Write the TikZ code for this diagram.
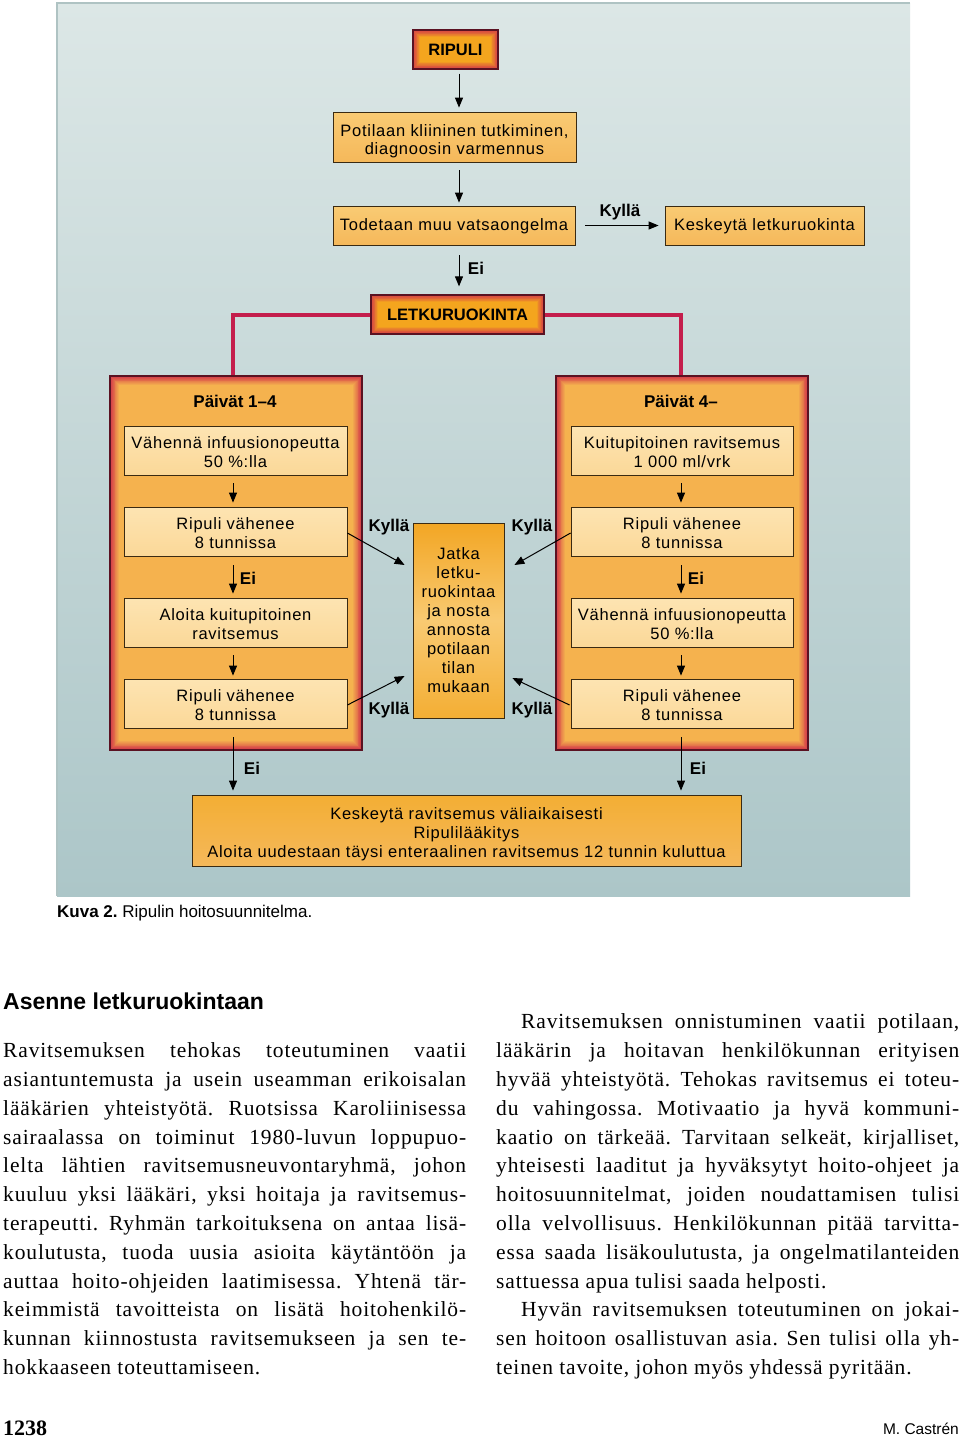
\documentclass[tikz,border=0pt]{standalone}
\usepackage{fontspec}
\setmainfont{Liberation Serif}
\newfontfamily\dsans[LetterSpace=4.5]{Liberation Sans}
\newfontfamily\plainsans{Liberation Sans}
\newfontfamily\bodyfont[LetterSpace=4]{Liberation Serif}
\usetikzlibrary{arrows.meta,calc}
\newcommand\tallstrut[1]{\rule{0pt}{#1}}
\definecolor{panelT}{HTML}{DCE7E6}
\definecolor{panelB}{HTML}{ACC6C8}
\definecolor{panelL}{HTML}{AFC3C3}
\definecolor{frdark}{HTML}{5A1222}
\definecolor{frred}{HTML}{D33A48}
\definecolor{frorange}{HTML}{F5B24E}
\definecolor{frorangeB}{HTML}{F4A51E}
\definecolor{boxline}{HTML}{3A2A12}
\definecolor{topT}{HTML}{F9CB74}
\definecolor{topB}{HTML}{F5B85A}
\definecolor{paleT}{HTML}{FDE4B2}
\definecolor{paleB}{HTML}{FBD898}
\definecolor{midT}{HTML}{F2A624}
\definecolor{midM}{HTML}{F9CA72}
\definecolor{midB}{HTML}{F3AE34}
\definecolor{redln}{HTML}{C41E4C}
\tikzset{
  dtext/.style={font=\dsans\fontsize{16.5}{19}\selectfont},
  bx/.style={draw=boxline, line width=0.8pt, inner sep=0pt, align=center, dtext},
  topbox/.style={bx, top color=topT, bottom color=topB},
  pale/.style={bx, top color=paleT, bottom color=paleB, minimum width=223pt, minimum height=49pt},
  frame/.style 2 args={draw=frdark, line width=1.2pt, fill=frred, inner sep=0pt, align=center,
    path picture={
      \foreach \i in {1,...,10}{
        \pgfmathtruncatemacro\p{100-\i*10}
        \fill[frred!\p!#2]
          ([shift={(\i*#1,\i*#1)}]path picture bounding box.south west) rectangle
          ([shift={(-\i*#1,-\i*#1)}]path picture bounding box.north east);
      }}},
  arr/.style={-{Triangle[length=10pt,width=8pt]}, line width=1pt, black},
  lbl/.style={font=\plainsans\bfseries\fontsize{17}{19}\selectfont, inner sep=0pt},
  redline/.style={line width=4pt, draw=redln},
  body/.style={font=\bodyfont\fontsize{21.5}{29}\selectfont, inner sep=0pt, anchor=base west},
}
\frenchspacing
\begin{document}
\begin{tikzpicture}[x=1pt,y=-1pt]
\useasboundingbox (0,0) rectangle (960,1438);
\fill[white] (0,0) rectangle (960,1438);
% panel
\shade[top color=panelT, bottom color=panelB] (57,3) rectangle (910,896);
\draw[panelL, line width=1.5pt] (57,896) -- (57,3) -- (910,3);

% top chain
\node[frame={0.7pt}{frorangeB}, minimum width=85pt, minimum height=39pt, font=\plainsans\bfseries\fontsize{16.5}{19}\selectfont] (ripuli) at (455.5,49.5) {RIPULI};
\node[topbox, minimum width=243pt, minimum height=50pt, font=\dsans\fontsize{16.5}{18.5}\selectfont] (potilaan) at (454.5,137) {\tallstrut{20pt}Potilaan kliininen tutkiminen,\\diagnoosin varmennus};
\node[topbox, minimum width=242pt, minimum height=39pt] (todetaan) at (454,225.5) {\tallstrut{14pt}Todetaan muu vatsaongelma};
\node[topbox, minimum width=199pt, minimum height=39pt] (keskeyta) at (764.5,225.5) {\tallstrut{14pt}Keskeytä letkuruokinta};
\node[frame={0.7pt}{frorangeB}, minimum width=173pt, minimum height=39pt, font=\plainsans\bfseries\fontsize{16.5}{19}\selectfont] (letku) at (457.5,314.5) {LETKURUOKINTA};

\draw[arr] ([xshift=3.5pt,yshift=-4pt]ripuli.south) -- ([xshift=4.5pt,yshift=4pt]potilaan.north);
\draw[arr] ([xshift=4.5pt,yshift=-8pt]potilaan.south) -- ([xshift=5pt,yshift=3pt]todetaan.north);
\draw[arr] ([xshift=10pt]todetaan.east) -- ([xshift=-6pt]keskeyta.west);
\node[lbl] (kyllaTop) at (620,212) {Kyllä};
\draw[arr] ([xshift=5pt,yshift=-10pt]todetaan.south) -- ([xshift=1.5pt,yshift=8pt]letku.north);
\node[lbl] (eiTop) at (476,268) {Ei};

% big boxes
\node[frame={0.9pt}{frorange}, minimum width=252pt, minimum height=374pt] (leftbig) at (236,563) {};
\node[frame={0.9pt}{frorange}, minimum width=252pt, minimum height=374pt] (rightbig) at (682,563) {};
\draw[redline] (letku.west) -| ([xshift=-3pt]leftbig.north);
\draw[redline] (letku.east) -| ([xshift=-1pt]rightbig.north);

\node[lbl] (dayL) at (235,401) {Päivät 1–4};
\node[lbl] (dayR) at (681,401) {Päivät 4–};

\node[pale] (L1) at (235.5,450.5) {\tallstrut{16pt}Vähennä infuusionopeutta\\50 \%:lla};
\node[pale] (L2) at (235.5,531.5) {\tallstrut{16pt}Ripuli vähenee\\8 tunnissa};
\node[pale] (L3) at (235.5,622.5) {\tallstrut{16pt}Aloita kuitupitoinen\\ravitsemus};
\node[pale] (L4) at (235.5,703.5) {\tallstrut{16pt}Ripuli vähenee\\8 tunnissa};
\node[pale, minimum width=222pt] (R1) at (682,450.5) {\tallstrut{16pt}Kuitupitoinen ravitsemus\\1 000 ml/vrk};
\node[pale, minimum width=222pt] (R2) at (682,531.5) {\tallstrut{16pt}Ripuli vähenee\\8 tunnissa};
\node[pale, minimum width=222pt] (R3) at (682,622.5) {\tallstrut{16pt}Vähennä infuusionopeutta\\50 \%:lla};
\node[pale, minimum width=222pt] (R4) at (682,703.5) {\tallstrut{16pt}Ripuli vähenee\\8 tunnissa};

\draw[arr] ([xshift=-2.5pt,yshift=-8pt]L1.south) -- ([xshift=-2.5pt,yshift=4pt]L2.north);
\draw[arr] ([xshift=-2.5pt,yshift=-9pt]L2.south) -- ([xshift=-2.5pt,yshift=4pt]L3.north);
\node[lbl] (eiL) at (248,578) {Ei};
\draw[arr] ([xshift=-2.5pt,yshift=-8pt]L3.south) -- ([xshift=-2.5pt,yshift=3pt]L4.north);
\draw[arr] ([xshift=-1pt,yshift=-8pt]R1.south) -- ([xshift=-1pt,yshift=4pt]R2.north);
\draw[arr] ([xshift=-1pt,yshift=-9pt]R2.south) -- ([xshift=-1pt,yshift=4pt]R3.north);
\node[lbl] (eiR) at (696,578) {Ei};
\draw[arr] ([xshift=-1pt,yshift=-8pt]R3.south) -- ([xshift=-1pt,yshift=3pt]R4.north);

% middle box
\node[bx, top color=midT, bottom color=midB, middle color=midM, minimum width=91pt, minimum height=195pt, text width=91pt, anchor=center] (mid) at (458.5,620.5)
  {Jatka\\letku-\\ruokintaa\\ja nosta\\annosta\\potilaan\\tilan\\mukaan\\[16pt]};

\draw[arr] ([yshift=-1.5pt]L2.east) -- ($(mid.west)+(-8,-55.5)$);
\draw[arr] ([yshift=-1.5pt]L4.east) -- ($(mid.west)+(-8,55.5)$);
\draw[arr] ([yshift=-1.5pt]R2.west) -- ($(mid.east)+(10,-55.5)$);
\draw[arr] ([xshift=-1pt,yshift=-1.5pt]R4.west) -- ($(mid.east)+(8,57.5)$);
\node[lbl] (kyL1) at (389,527) {Kyllä};
\node[lbl] (kyL2) at (389,710) {Kyllä};
\node[lbl] (kyR1) at (532,527) {Kyllä};
\node[lbl] (kyR2) at (532,710) {Kyllä};

% bottom box
\node[bx, font=\dsans\fontsize{16.5}{19}\selectfont, top color=midB, middle color=midM, bottom color=topB, minimum width=549pt, minimum height=71pt] (bottom) at (466.5,830.5)
  {\tallstrut{20pt}Keskeytä ravitsemus väliaikaisesti\\Ripulilääkitys\\Aloita uudestaan täysi enteraalinen ravitsemus 12 tunnin kuluttua};
\draw[arr] ([xshift=-2.5pt,yshift=-9pt]L4.south) -- ([xshift=-2.5pt,yshift=4pt]L4.south |- bottom.north);
\draw[arr] ([xshift=-1pt,yshift=-9pt]R4.south) -- ([xshift=-1pt,yshift=4pt]R4.south |- bottom.north);
\node[lbl] (eiBL) at (252,768) {Ei};
\node[lbl] (eiBR) at (698,768) {Ei};

% caption
\node[anchor=west, inner sep=0pt, font=\plainsans\fontsize{17}{19}\selectfont] (caption) at (57,913) {\textbf{Kuva 2.} Ripulin hoitosuunnitelma.};

% article text
\node[anchor=west, inner sep=0pt, font=\plainsans\bfseries\fontsize{23}{26}\selectfont] (heading) at (3,1001) {Asenne letkuruokintaan};

\node[body] (l1) at (3,1057) {\makebox[463pt][s]{Ravitsemuksen tehokas toteutuminen vaatii}};
\node[body] (l2) at (3,1086) {\makebox[463pt][s]{asiantuntemusta ja usein useamman erikoisalan}};
\node[body] (l3) at (3,1115) {\makebox[463pt][s]{lääkärien yhteistyötä. Ruotsissa Karoliinisessa}};
\node[body] (l4) at (3,1144) {\makebox[463pt][s]{sairaalassa on toiminut 1980-luvun loppupuo-}};
\node[body] (l5) at (3,1172) {\makebox[463pt][s]{lelta lähtien ravitsemusneuvontaryhmä, johon}};
\node[body] (l6) at (3,1201) {\makebox[463pt][s]{kuuluu yksi lääkäri, yksi hoitaja ja ravitsemus-}};
\node[body] (l7) at (3,1230) {\makebox[463pt][s]{terapeutti. Ryhmän tarkoituksena on antaa lisä-}};
\node[body] (l8) at (3,1259) {\makebox[463pt][s]{koulutusta, tuoda uusia asioita käytäntöön ja}};
\node[body] (l9) at (3,1288) {\makebox[463pt][s]{auttaa hoito-ohjeiden laatimisessa. Yhtenä tär-}};
\node[body] (l10) at (3,1316) {\makebox[463pt][s]{keimmistä tavoitteista on lisätä hoitohenkilö-}};
\node[body] (l11) at (3,1345) {\makebox[463pt][s]{kunnan kiinnostusta ravitsemukseen ja sen te-}};
\node[body] (l12) at (3,1374) {hokkaaseen toteuttamiseen.};

\node[body] (r1) at (521,1028) {\makebox[438pt][s]{Ravitsemuksen onnistuminen vaatii potilaan,}};
\node[body] (r2) at (496,1057) {\makebox[463pt][s]{lääkärin ja hoitavan henkilökunnan erityisen}};
\node[body] (r3) at (496,1086) {\makebox[463pt][s]{hyvää yhteistyötä. Tehokas ravitsemus ei toteu-}};
\node[body] (r4) at (496,1115) {\makebox[463pt][s]{du vahingossa. Motivaatio ja hyvä kommuni-}};
\node[body] (r5) at (496,1144) {\makebox[463pt][s]{kaatio on tärkeää. Tarvitaan selkeät, kirjalliset,}};
\node[body] (r6) at (496,1172) {\makebox[463pt][s]{yhteisesti laaditut ja hyväksytyt hoito-ohjeet ja}};
\node[body] (r7) at (496,1201) {\makebox[463pt][s]{hoitosuunnitelmat, joiden noudattamisen tulisi}};
\node[body] (r8) at (496,1230) {\makebox[463pt][s]{olla velvollisuus. Henkilökunnan pitää tarvitta-}};
\node[body] (r9) at (496,1259) {\makebox[463pt][s]{essa saada lisäkoulutusta, ja ongelmatilanteiden}};
\node[body] (r10) at (496,1288) {sattuessa apua tulisi saada helposti.};
\node[body] (r11) at (521,1316) {\makebox[438pt][s]{Hyvän ravitsemuksen toteutuminen on jokai-}};
\node[body] (r12) at (496,1345) {\makebox[463pt][s]{sen hoitoon osallistuvan asia. Sen tulisi olla yh-}};
\node[body] (r13) at (496,1374) {teinen tavoite, johon myös yhdessä pyritään.};

% footer
\node[anchor=west, inner sep=0pt, font=\bfseries\fontsize{22}{24}\selectfont] (pagenum) at (3,1428) {1238};
\node[anchor=east, inner sep=0pt, font=\plainsans\fontsize{15.5}{18}\selectfont] (author) at (959,1429) {M. Castrén};
\end{tikzpicture}
\end{document}
